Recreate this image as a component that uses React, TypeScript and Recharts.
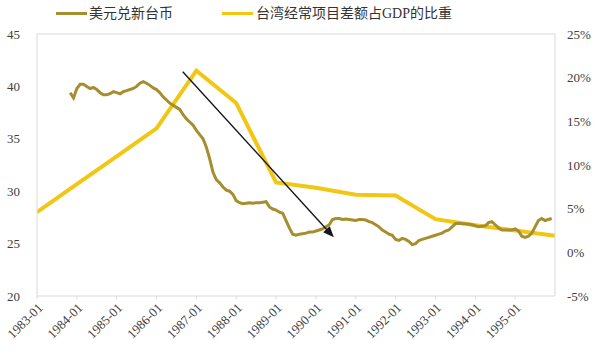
import React from 'react';
import { LineChart, Line, XAxis, YAxis, ReferenceLine } from 'recharts';

// X axis: month index from 1983-01 (0) to 1996-01 (156)
const tickMonths = [0, 12, 24, 36, 48, 60, 72, 84, 96, 108, 120, 132, 144];
const tickLabels = ['1983-01', '1984-01', '1985-01', '1986-01', '1987-01', '1988-01', '1989-01', '1990-01', '1991-01', '1992-01', '1993-01', '1994-01', '1995-01'];

const leftTicks = [20, 25, 30, 35, 40, 45];
const rightTicks = [-5, 0, 5, 10, 15, 20, 25];

const seriesNames = ['美元兑新台币', '台湾经常项目差额占GDP的比重'];

// USD/TWD monthly, starting at 1983-11 (month index 10)
const fxStart = 10;
const fxValues = [
  39.4, 38.9, 39.8, 40.2, 40.2, 40.0, 39.8, 39.9, 39.7, 39.4,
  39.2, 39.2, 39.3, 39.5, 39.4, 39.3, 39.5, 39.6, 39.7, 39.8,
  40.0, 40.3, 40.45, 40.3, 40.1, 39.85, 39.7, 39.4, 39.0, 38.7,
  38.4, 38.2, 38.0, 37.8, 37.3, 36.9, 36.6, 36.3, 35.8, 35.4,
  35.0, 34.2, 33.1, 31.8, 31.1, 30.8, 30.4, 30.1, 30.0, 29.7,
  29.1, 28.9, 28.8, 28.85, 28.9, 28.85, 28.9, 28.9, 28.95, 29.0,
  28.5, 28.3, 28.2, 28.0, 27.9, 27.2, 26.5, 25.9, 25.8, 25.9,
  25.95, 26.0, 26.1, 26.1, 26.2, 26.3, 26.4, 26.6, 26.8, 27.3,
  27.4, 27.4, 27.3, 27.35, 27.3, 27.25, 27.2, 27.3, 27.3, 27.25,
  27.1, 27.0, 26.8, 26.6, 26.3, 26.1, 25.9, 25.8, 25.4, 25.3,
  25.5, 25.4, 25.2, 24.9, 25.0, 25.3, 25.4, 25.5, 25.6, 25.7,
  25.8, 25.9, 26.0, 26.2, 26.3, 26.6, 26.9, 26.95, 26.9, 26.9,
  26.85, 26.8, 26.7, 26.6, 26.65, 26.7, 27.0, 27.1, 26.8, 26.5,
  26.3, 26.3, 26.3, 26.3, 26.4, 26.2, 25.7, 25.6, 25.7, 26.0,
  26.6, 27.2, 27.4, 27.2, 27.3, 27.4,
];

// Current account / GDP (%), yearly knots
const caMonths = [0, 12, 24, 36, 48, 60, 72, 84, 96, 108, 120, 132, 144, 156];
const caValues = [4.6, 7.8, 11.0, 14.2, 20.8, 17.1, 8.0, 7.4, 6.6, 6.5, 3.8, 3.1, 2.5, 1.9];

// Arrow annotation (month index, left-axis value)
const arrowStart = { x: 43.9, y: 41.4 };
const arrowEnd = { x: 89.4, y: 25.6 };

const BROWN = '#A68E2E';
const YELLOW = '#F2C713';
const TEXT = '#404040';
const AXIS = '#D9D9D9';
const SERIF = "'Liberation Serif', 'DejaVu Serif', 'Times New Roman', serif";

const data: { m: number; fx?: number; ca?: number }[] = [];
for (let m = 0; m <= 156; m++) {
  const row: { m: number; fx?: number; ca?: number } = { m };
  const fi = m - fxStart;
  if (fi >= 0 && fi < fxValues.length) row.fx = fxValues[fi];
  const ci = caMonths.indexOf(m);
  if (ci >= 0) row.ca = caValues[ci];
  data.push(row);
}

const tickStyle = { fill: TEXT, fontSize: 13, fontFamily: SERIF, style: { fontFamily: SERIF } };

const ArrowShape = (props: any) => {
  const { x1, y1, x2, y2 } = props;
  if ([x1, y1, x2, y2].some((v) => typeof v !== 'number' || isNaN(v))) return null;
  const ang = Math.atan2(y2 - y1, x2 - x1);
  const len = 11;
  const half = 4.5;
  const bx = x2 - len * Math.cos(ang);
  const by = y2 - len * Math.sin(ang);
  const px = -Math.sin(ang);
  const py = Math.cos(ang);
  const pts = `${x2},${y2} ${bx + half * px},${by + half * py} ${bx - half * px},${by - half * py}`;
  return (
    <g>
      <line x1={x1} y1={y1} x2={bx + 2 * Math.cos(ang)} y2={by + 2 * Math.sin(ang)} stroke="#151520" strokeWidth={1.4} />
      <polygon points={pts} fill="#151520" />
    </g>
  );
};

const LegendBlock = () => (
  <div style={{ position: 'absolute', left: 0, top: 0, width: 600, height: 28, fontFamily: "'Liberation Serif', 'DejaVu Serif', 'Noto Sans CJK SC', serif", fontSize: 14, color: '#333' }}>
    <div style={{ position: 'absolute', left: 56, top: 12, width: 31, height: 3, background: BROWN }} />
    <div style={{ position: 'absolute', left: 89, top: 5, lineHeight: '18px', whiteSpace: 'nowrap' }}>{seriesNames[0]}</div>
    <div style={{ position: 'absolute', left: 222, top: 12, width: 31, height: 3, background: YELLOW }} />
    <div style={{ position: 'absolute', left: 256, top: 5, lineHeight: '18px', whiteSpace: 'nowrap' }}>{seriesNames[1]}</div>
  </div>
);

export default function App() {
  return (
    <div style={{ position: 'absolute', left: 0, top: 0, width: 600, height: 355, background: '#fff', fontFamily: SERIF }}>
      <LineChart width={600} height={355} data={data} margin={{ top: 34, right: 0, bottom: 0, left: 0 }} style={{ fontFamily: SERIF }}>
        <XAxis
          dataKey="m"
          type="number"
          domain={[0, 156]}
          ticks={tickMonths}
          tickFormatter={(v: number) => tickLabels[tickMonths.indexOf(v)] ?? ''}
          interval={0}
          height={59}
          stroke={AXIS}
          tickLine={{ stroke: AXIS }}
          tickSize={3}
          tickMargin={3}
          angle={-45}
          textAnchor="end"
          tick={tickStyle}
          allowDataOverflow
        />
        <YAxis
          yAxisId="left"
          orientation="left"
          domain={[20, 45]}
          ticks={leftTicks}
          width={37}
          stroke={AXIS}
          tickLine={false}
          tickSize={0}
          tickMargin={17}
          tick={tickStyle}
          allowDataOverflow
        />
        <YAxis
          yAxisId="right"
          orientation="right"
          domain={[-5, 25]}
          ticks={rightTicks}
          width={45}
          stroke={AXIS}
          tickLine={false}
          tickSize={0}
          tickMargin={12}
          tickFormatter={(v: number) => `${v}%`}
          tick={{ ...tickStyle, textAnchor: 'start' }}
          allowDataOverflow
        />
        <ReferenceLine yAxisId="left" y={45} stroke={AXIS} strokeWidth={1} />
        <Line
          yAxisId="right"
          dataKey="ca"
          name={seriesNames[1]}
          stroke={YELLOW}
          strokeWidth={4}
          dot={false}
          activeDot={false}
          connectNulls
          type="linear"
          isAnimationActive={false}
        />
        <Line
          yAxisId="left"
          dataKey="fx"
          name={seriesNames[0]}
          stroke={BROWN}
          strokeWidth={3}
          dot={false}
          activeDot={false}
          type="linear"
          isAnimationActive={false}
        />
        <ReferenceLine
          yAxisId="left"
          segment={[arrowStart, arrowEnd]}
          shape={ArrowShape}
          ifOverflow="visible"
        />
      </LineChart>
      <LegendBlock />
    </div>
  );
}
